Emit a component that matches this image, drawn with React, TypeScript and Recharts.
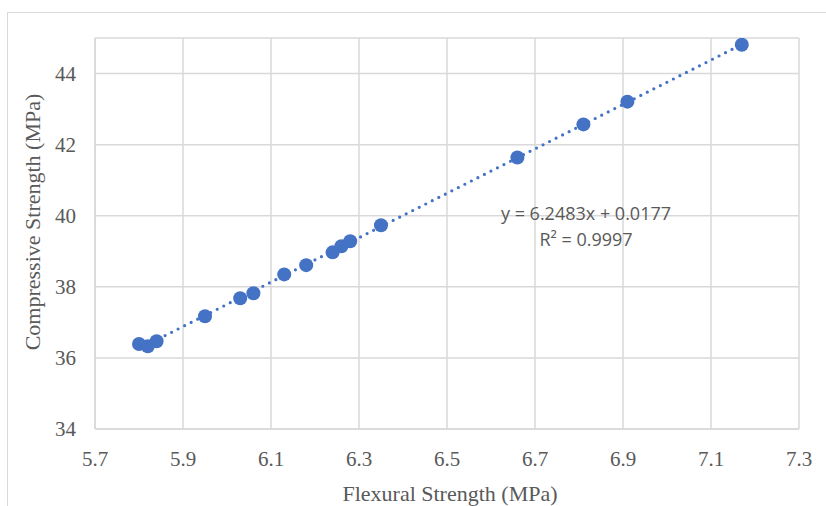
import React from "react";
import { ScatterChart, Scatter, XAxis, YAxis, CartesianGrid } from "recharts";

const flexural = [5.80, 5.82, 5.84, 5.95, 6.03, 6.06, 6.13, 6.18, 6.24, 6.26, 6.28, 6.35, 6.66, 6.81, 6.91, 7.17];
const compressive = [36.39, 36.33, 36.47, 37.17, 37.68, 37.82, 38.35, 38.61, 38.97, 39.14, 39.28, 39.73, 41.64, 42.57, 43.21, 44.81];
const xTicks = [5.7, 5.9, 6.1, 6.3, 6.5, 6.7, 6.9, 7.1, 7.3];
const yTicks = [34, 36, 38, 40, 42, 44];
const slope = 6.2483;
const intercept = 0.0177;
const rSquared = 0.9997;

const points = flexural.map((x, i) => ({ x, y: compressive[i] }));
const xMin = Math.min(...flexural);
const xMax = Math.max(...flexural);
const trend = [
  { x: xMin, y: slope * xMin + intercept },
  { x: xMax, y: slope * xMax + intercept },
];

const BLUE = "#4472C4";
const GRID = "#d9d9d9";
const TEXT = "#595959";
const SERIF = "'Liberation Serif', 'Times New Roman', serif";

export default function App() {
  return (
    <div style={{ position: "absolute", left: 0, top: 0, width: 826, height: 506, overflow: "hidden", background: "#fff" }}>
      <div style={{ position: "absolute", left: 7, top: 12, width: 900, height: 600, border: `1px solid ${GRID}`, boxSizing: "border-box" }} />
      <ScatterChart width={826} height={506} margin={{ top: 38, right: 27, bottom: 0, left: 0 }}>
        <CartesianGrid stroke={GRID} strokeWidth={1.5} horizontal vertical />
        <XAxis
          type="number"
          dataKey="x"
          domain={[5.7, 7.3]}
          ticks={xTicks}
          tickFormatter={(v: number) => v.toFixed(1)}
          height={77}
          tickLine={false}
          tickSize={0}
          tickMargin={22}
          axisLine={{ stroke: GRID, strokeWidth: 1.5 }}
          tick={{ fill: TEXT, fontFamily: SERIF, fontSize: 21 }}
          allowDataOverflow
        />
        <YAxis
          type="number"
          dataKey="y"
          domain={[34, 45]}
          ticks={yTicks}
          width={95}
          tickLine={false}
          tickSize={0}
          tickMargin={19}
          axisLine={{ stroke: GRID, strokeWidth: 1.5 }}
          tick={{ fill: TEXT, fontFamily: SERIF, fontSize: 21 }}
          allowDataOverflow
        />
        <Scatter
          data={points}
          isAnimationActive={false}
          shape={(p: any) => <circle cx={p.cx} cy={p.cy} r={7} fill={BLUE} />}
        />
        <Scatter
          data={trend}
          isAnimationActive={false}
          line={{ stroke: BLUE, strokeWidth: 3.2, strokeDasharray: "0 7.3", strokeLinecap: "round" }}
          shape={() => <g />}
        />
      </ScatterChart>
      <div
        style={{
          position: "absolute",
          left: 33,
          top: 222,
          transform: "translate(-50%, -50%) rotate(-90deg)",
          whiteSpace: "nowrap",
          fontFamily: SERIF,
          fontSize: 22,
          color: TEXT,
          lineHeight: 1,
        }}
      >
        Compressive Strength (MPa)
      </div>
      <div
        style={{
          position: "absolute",
          left: 450,
          top: 494,
          transform: "translate(-50%, -50%)",
          whiteSpace: "nowrap",
          fontFamily: SERIF,
          fontSize: 22,
          color: TEXT,
          lineHeight: 1,
        }}
      >
        Flexural Strength (MPa)
      </div>
      <div
        style={{
          position: "absolute",
          left: 486,
          top: 200,
          width: 200,
          textAlign: "center",
          fontFamily: "'Open Sans', sans-serif",
          fontSize: 18,
          lineHeight: "26px",
          color: TEXT,
          whiteSpace: "nowrap",
        }}
      >
        <div>{`y = ${slope}x + ${intercept}`}</div>
        <div>
          R² = {rSquared}
        </div>
      </div>
    </div>
  );
}
